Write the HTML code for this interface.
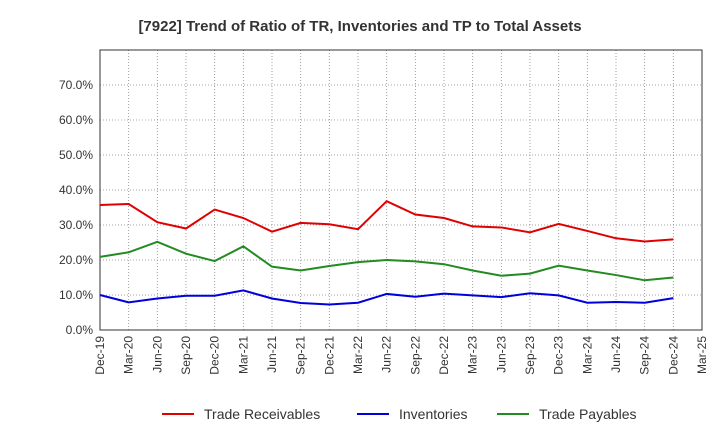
<!DOCTYPE html>
<html><head><meta charset="utf-8"><style>
body{margin:0;background:#fff;font-family:"Liberation Sans",sans-serif}
</style></head><body>
<svg id="c" width="720" height="440" xmlns="http://www.w3.org/2000/svg">
<text x="360" y="31" text-anchor="middle" font-size="15" font-weight="bold" fill="#333">[7922]  Trend of Ratio of TR, Inventories and TP to Total Assets</text>
<g id="grid"></g>
<g id="axes"></g>
<g id="series"></g>
<g id="legend"></g>
</svg>
<script>
const categories=["Dec-19","Mar-20","Jun-20","Sep-20","Dec-20","Mar-21","Jun-21","Sep-21","Dec-21","Mar-22","Jun-22","Sep-22","Dec-22","Mar-23","Jun-23","Sep-23","Dec-23","Mar-24","Jun-24","Sep-24","Dec-24","Mar-25"];
const tradeReceivables=[35.7,36.0,30.8,29.0,34.4,32.0,28.1,30.6,30.2,28.8,36.8,33.0,32.0,29.6,29.3,27.9,30.3,28.3,26.2,25.3,25.9];
const inventories=[10.0,7.9,9.0,9.8,9.8,11.3,9.0,7.7,7.3,7.8,10.3,9.5,10.4,9.9,9.4,10.5,9.9,7.8,8.0,7.8,9.1];
const tradePayables=[20.9,22.2,25.2,21.8,19.7,23.9,18.1,17.0,18.3,19.4,20.0,19.6,18.8,17.0,15.5,16.1,18.4,17.0,15.7,14.2,15.0];
const yTicks=[0,10,20,30,40,50,60,70];
const seriesNames=["Trade Receivables","Inventories","Trade Payables"];
const NS="http://www.w3.org/2000/svg";
const L=100,R=702,T=50,B=330,yMax=80;
const x=i=>L+(R-L)*i/(categories.length-1);
const y=v=>B-(B-T)*v/yMax;
function mk(tag,attrs,parent,txt){const e=document.createElementNS(NS,tag);for(const k in attrs)e.setAttribute(k,attrs[k]);if(txt!==undefined)e.textContent=txt;parent.appendChild(e);return e;}
const grid=document.getElementById('grid'),axes=document.getElementById('axes'),ser=document.getElementById('series'),leg=document.getElementById('legend');
for(let i=0;i<categories.length;i++){
 const g=mk('line',{x1:x(i),x2:x(i),y1:T,y2:B,stroke:'#888','stroke-dasharray':'1,2','stroke-width':0.8},grid);
 
 const t=mk('text',{transform:`translate(${x(i)+4},${B+6}) rotate(-90)`,'text-anchor':'end','font-size':12,fill:'#333'},axes,categories[i]);
 
}
for(const v of yTicks.concat([80])){
 const g=mk('line',{x1:L,x2:R,y1:y(v),y2:y(v),stroke:'#888','stroke-dasharray':'1,2','stroke-width':0.8},grid);
 
}
for(const v of yTicks){
 const t=mk('text',{x:L-7,y:y(v)+4,'text-anchor':'end','font-size':12,fill:'#333'},axes,v.toFixed(1)+'%');
 
}
const fr=mk('rect',{x:L,y:T,width:R-L,height:B-T,fill:'none',stroke:'#333','stroke-width':1},axes);

const colors=['#e00000','#0000dd','#228b22'];
[tradeReceivables,inventories,tradePayables].forEach((d,k)=>{
 const p=mk('polyline',{points:d.map((v,i)=>x(i)+','+y(v)).join(' '),fill:'none',stroke:colors[k],'stroke-width':2},ser);
 
 const lx=[162,357,497][k];
 const ll=mk('line',{x1:lx,x2:lx+32,y1:414,y2:414,stroke:colors[k],'stroke-width':2},leg);
 
 const lt=mk('text',{x:lx+42,y:419,'font-size':14,fill:'#333'},leg,seriesNames[k]);
 
});
</script>
</body></html>
